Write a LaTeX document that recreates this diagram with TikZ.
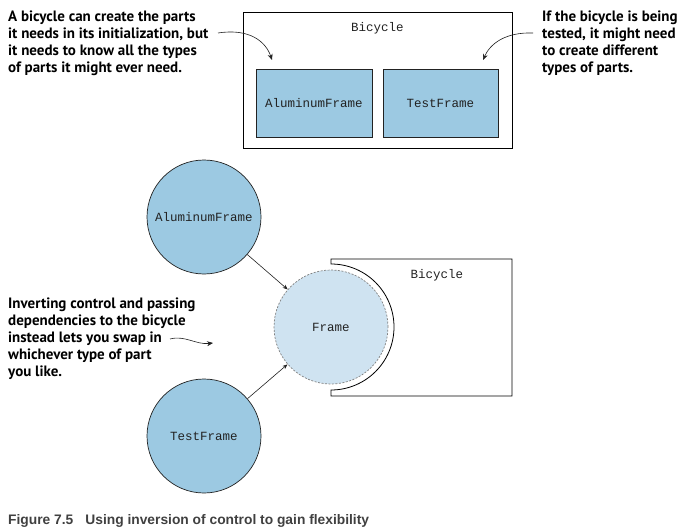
\documentclass[tikz,border=0pt]{standalone}
\usepackage{fontspec}
\setmainfont{PT Sans}
\setmonofont{Liberation Mono}
\newfontfamily\capfont{Liberation Sans}
\usetikzlibrary{arrows.meta}
\definecolor{partblue}{HTML}{9CC9E2}
\definecolor{framefill}{HTML}{CFE3F1}
\definecolor{capgray}{HTML}{404040}
\definecolor{linegray}{HTML}{222222}
\tikzset{
  callout/.style={anchor=base west, align=left, inner sep=0pt,
    font=\fontsize{15}{17}\selectfont\bfseries, text=black},
  codelabel/.style={font=\ttfamily\fontsize{12.5}{14}\selectfont, text=linegray, inner sep=0pt},
  partbox/.style={draw=linegray, line width=0.9pt, fill=partblue, minimum height=68pt,
    font=\ttfamily\fontsize{12.5}{14}\selectfont, text=linegray},
  partcircle/.style={circle, draw=linegray, line width=0.7pt, fill=partblue, minimum size=114pt,
    inner sep=0pt, font=\ttfamily\fontsize{12.5}{14}\selectfont, text=linegray},
  framecircle/.style={circle, draw=gray, dash pattern=on 2pt off 1.5pt, line width=0.7pt,
    fill=framefill, minimum size=114pt, inner sep=0pt,
    font=\ttfamily\fontsize{12.5}{14}\selectfont, text=linegray},
  holder/.style={draw=black, line width=1pt},
  callarrow/.style={draw=linegray, line width=0.6pt, -{Stealth[length=6pt,width=5pt]}},
  linkarrow/.style={draw=linegray, line width=0.6pt, -{Stealth[length=5pt,width=4pt]}},
}
\begin{document}
\begin{tikzpicture}[x=1pt,y=-1pt]
\useasboundingbox[fill=white] (0,0) rectangle (683,532);

% ---- top part ----
\node[holder, minimum width=269pt, minimum height=136pt] (bike1) at (377.5,81) {};
\node[codelabel] (bike1lbl) at (377.5,28) {Bicycle};
\node[partbox, minimum width=116pt] (alu1) at (314,103) {AluminumFrame};
\node[partbox, minimum width=115pt] (test1) at (440.5,103) {TestFrame};

% anchor base = baseline of the last line
\node[callout] (note1) at (8,73) {A bicycle can create the parts\\it needs in its initialization, but\\it needs to know all the types\\of parts it might ever need.};
\node[callout] (note2) at (542,73) {If the bicycle is being\\tested, it might need\\to create different\\types of parts.};

\coordinate (n1s) at (218,33);
\coordinate (n1e) at (272,60);
\coordinate (n2s) at (533,33);
\coordinate (n2e) at (483,60);
\draw[callarrow] (n1s) .. controls (250,28) and (266,42) .. (n1e);
\draw[callarrow] (n2s) .. controls (505,32) and (490,44) .. (n2e);

% ---- bottom part ----
\draw[holder, line width=0.8pt] (331,259) -- (512,259) -- (512,396) -- (331,396) -- (331,390)
  arc[start angle=90, end angle=-90, radius=63] -- cycle;
\node[codelabel] (bike2lbl) at (437,275) {Bicycle};

\node[partcircle] (alu2) at (204,217) {AluminumFrame};
\node[partcircle] (test2) at (204,436) {TestFrame};
\node[framecircle] (frame) at (331,327) {Frame};

\draw[linkarrow] (alu2) -- (frame);
\draw[linkarrow] (test2) -- (frame);

\node[callout] (note3) at (8,376) {Inverting control and passing\\dependencies to the bicycle\\instead lets you swap in\\whichever type of part\\you like.};
\coordinate (n3s) at (170,339);
\coordinate (n3e) at (213,343);
\draw[callarrow] (n3s) .. controls (185,335) and (196,345) .. (n3e);

% ---- caption ----
\node[anchor=base west, inner sep=0pt, font=\capfont\bfseries\fontsize{13.8}{16}\selectfont, text=capgray]
  (caption) at (8,524) {Figure 7.5\hspace{12pt}Using inversion of control to gain flexibility};
\end{tikzpicture}
\end{document}
